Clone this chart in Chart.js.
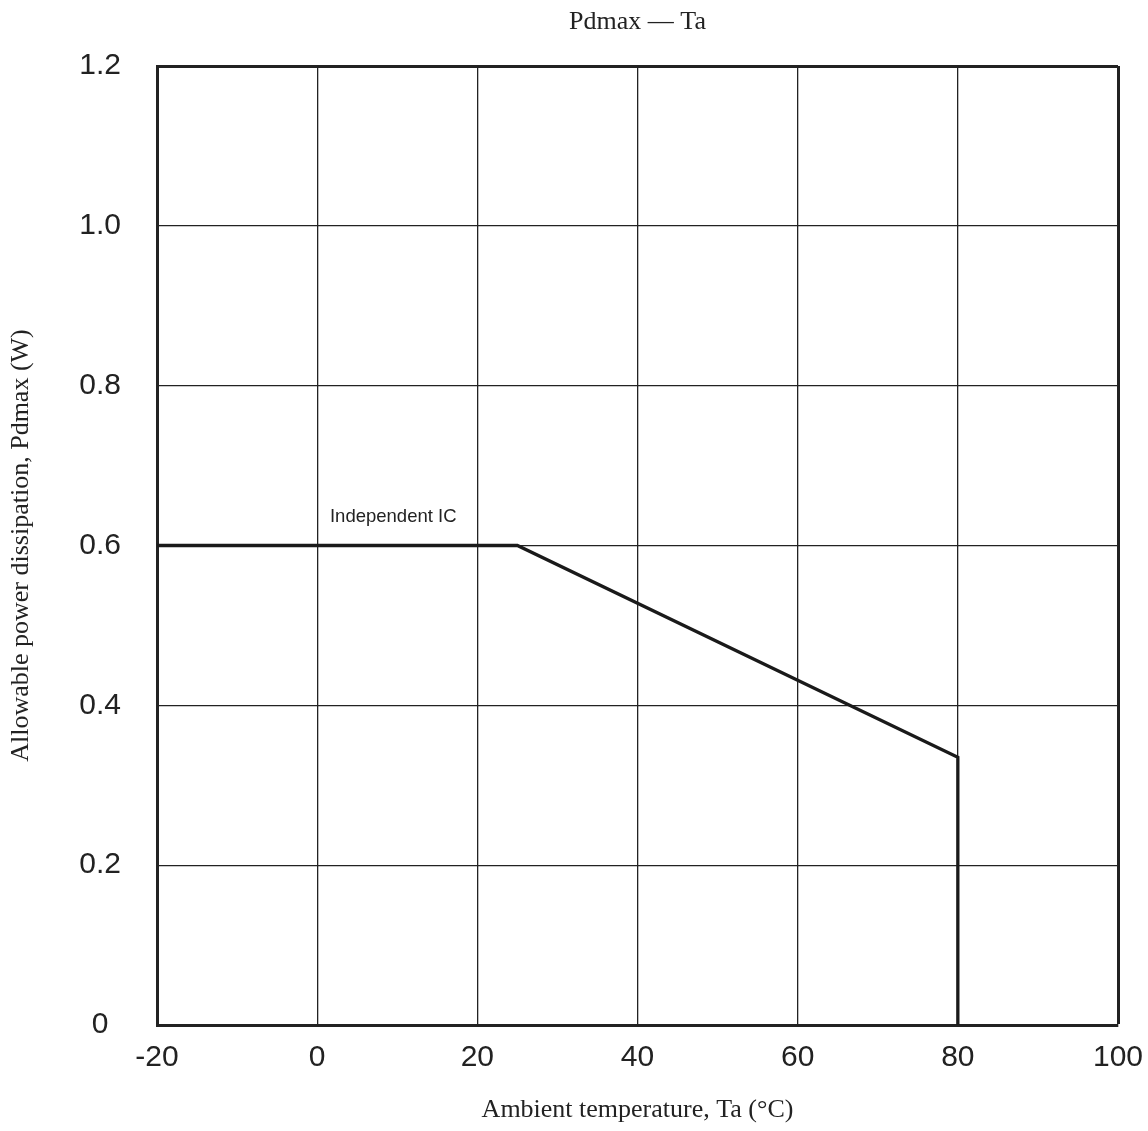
<!DOCTYPE html>
<html>
<head>
<meta charset="utf-8">
<title>Pdmax — Ta</title>
<script src="https://cdn.jsdelivr.net/npm/chart.js@4/dist/chart.umd.min.js"></script>
<style>
    html, body {
        margin: 0;
        padding: 0;
        background: #ffffff;
    }
    #wrap {
        width: 1148px;
        height: 1131px;
    }
</style>
</head>
<body>
<div id="wrap"><canvas id="pdChart"></canvas></div>
<script>
// --- Data ---
const ambientTemp = [-20, 25, 80, 80]; // Ta (°C)
const powerDissipation = [0.6, 0.6, 0.335, 0]; // Pdmax (W)
const xTickValues = [-20, 0, 20, 40, 60, 80, 100];
const yTickValues = [0, 0.2, 0.4, 0.6, 0.8, 1.0, 1.2];
const curveLabel = "Independent IC";
const curveLabelAt = [1.6, 0.636]; // where the label sits, in data units

const ink = "#222222";
const sansFont = "'Liberation Sans', Arial, sans-serif";
const serifFont = "'Liberation Serif', 'Times New Roman', serif";

// Draws the curve label next to the flat part of the line
const curveLabelPlugin = {
    id: "curveLabel",
    afterDatasetsDraw(chart) {
        const { ctx, scales } = chart;
        const x = scales.x.getPixelForValue(curveLabelAt[0]);
        const y = scales.y.getPixelForValue(curveLabelAt[1]);
        ctx.save();
        ctx.font = "18.5px " + sansFont;
        ctx.fillStyle = ink;
        ctx.textAlign = "left";
        ctx.textBaseline = "middle";
        ctx.fillText(curveLabel, x, y);
        ctx.restore();
    },
};

// Thick frame on the outer grid lines (top and right)
function edgeWidth(context) {
    const last = context.scale.ticks.length - 1;
    return context.index === last ? 3 : 1.3;
}

// fixed axis sizes, no extra room reserved for overhanging labels
function fixSize(size) {
    return (scale) => {
        if (scale.isHorizontal()) scale.height = size;
        else scale.width = size;
        scale.paddingLeft = 0;
        scale.paddingRight = 0;
        scale.paddingTop = 0;
        scale.paddingBottom = 0;
    };
}

const ctx = document.getElementById("pdChart").getContext("2d");
const pdChart = new Chart(ctx, {
    type: "scatter",
    data: {
        datasets: [
            {
                label: curveLabel,
                data: ambientTemp.map((t, i) => ({ x: t, y: powerDissipation[i] })),
                showLine: true,
                borderColor: "#1a1a1a",
                borderWidth: 3.3,
                borderJoinStyle: "miter",
                pointRadius: 0,
                fill: false,
            },
        ],
    },
    options: {
        responsive: true,
        maintainAspectRatio: false,
        animation: false,
        layout: {
            padding: { top: 0, right: 30, bottom: 0, left: 0 },
        },
        plugins: {
            legend: { display: false },
            tooltip: { enabled: false },
        },
        scales: {
            // top axis only carries the chart title, centred over the plot
            top: {
                type: "linear",
                position: "top",
                min: xTickValues[0],
                max: xTickValues[xTickValues.length - 1],
                afterFit: fixSize(66),
                grid: { display: false, drawTicks: false },
                border: { display: false },
                ticks: { display: false },
                title: {
                    display: true,
                    text: "Pdmax — Ta",
                    color: ink,
                    font: { family: serifFont, size: 26 },
                    padding: { top: 7, bottom: 0 },
                },
            },
            x: {
                type: "linear",
                min: xTickValues[0],
                max: xTickValues[xTickValues.length - 1],
                afterBuildTicks: (scale) => {
                    scale.ticks = xTickValues.map((v) => ({ value: v }));
                },
                afterFit: fixSize(106),
                grid: {
                    color: ink,
                    lineWidth: edgeWidth,
                    drawTicks: false,
                },
                border: { display: true, color: ink, width: 3 },
                ticks: {
                    color: ink,
                    padding: 15,
                    maxRotation: 0,
                    font: { family: sansFont, size: 30 },
                },
                title: {
                    display: true,
                    text: "Ambient temperature, Ta (°C)",
                    color: ink,
                    font: { family: serifFont, size: 26 },
                    padding: { top: 0, bottom: 5 },
                },
            },
            y: {
                type: "linear",
                min: yTickValues[0],
                max: yTickValues[yTickValues.length - 1],
                afterBuildTicks: (scale) => {
                    scale.ticks = yTickValues.map((v) => ({ value: v }));
                },
                afterFit: fixSize(157),
                grid: {
                    color: ink,
                    lineWidth: edgeWidth,
                    drawTicks: false,
                },
                border: { display: true, color: ink, width: 3 },
                ticks: {
                    color: ink,
                    padding: 36,
                    crossAlign: "center",
                    font: { family: sansFont, size: 30 },
                    callback: (value) => (value === 0 ? "0" : value.toFixed(1)),
                },
                title: {
                    display: true,
                    text: "Allowable power dissipation, Pdmax (W)",
                    color: ink,
                    font: { family: serifFont, size: 26 },
                    padding: { top: 6, bottom: 0 },
                },
            },
        },
    },
    plugins: [curveLabelPlugin],
});
</script>
</body>
</html>
